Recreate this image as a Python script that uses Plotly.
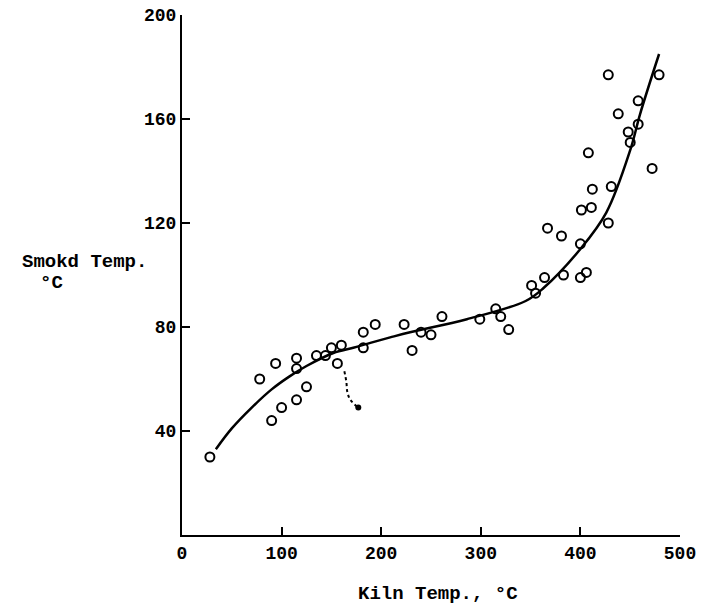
import plotly.graph_objects as go

# Observed points (open circles)
kiln_temp = [28, 78, 94, 90, 100, 115, 115, 115, 125, 135, 144, 150, 160, 156,
             182, 182, 194, 223, 231, 240, 250, 261, 299, 315, 320, 328, 351,
             355, 364, 383, 400, 406, 400, 367, 381, 428, 401, 411, 412, 431,
             408, 472, 450, 448, 458, 438, 458, 428, 479]
smoke_temp = [30, 60, 66, 44, 49, 68, 64, 52, 57, 69, 69, 72, 73, 66,
              78, 72, 81, 81, 71, 78, 77, 84, 83, 87, 84, 79, 96,
              93, 99, 100, 99, 101, 112, 118, 115, 120, 125, 126, 133, 134,
              147, 141, 151, 155, 158, 162, 167, 177, 177]

# Hand-drawn fitted curve
curve_x = [34, 50, 70, 90, 108, 125, 152, 172, 190, 209, 229, 286, 345, 363,
           400, 426, 450, 460, 479]
curve_y = [33, 41, 49, 56, 61, 65, 70, 72, 74, 76, 78, 83, 90, 95,
           110, 124, 148, 162, 185]

# Dotted branch ending in a filled point
branch_x = [163, 165, 166, 169, 177]
branch_y = [63, 59, 55, 52, 49]

x_ticks = [0, 100, 200, 300, 400, 500]
y_ticks = [40, 80, 120, 160, 200]

FONT = "Liberation Mono"

fig = go.Figure()
fig.add_trace(go.Scatter(x=curve_x, y=curve_y, mode="lines",
                         line=dict(color="black", width=2.5, shape="spline", smoothing=1.0),
                         hoverinfo="skip", showlegend=False))
fig.add_trace(go.Scatter(x=branch_x, y=branch_y, mode="lines",
                         line=dict(color="black", width=2, dash="dot", shape="spline"),
                         showlegend=False))
fig.add_trace(go.Scatter(x=branch_x[-1:], y=branch_y[-1:], mode="markers",
                         marker=dict(symbol="circle", size=6, color="black"),
                         showlegend=False))
fig.add_trace(go.Scatter(x=kiln_temp, y=smoke_temp, mode="markers",
                         marker=dict(symbol="circle-open", size=9, color="black",
                                     line=dict(width=2, color="black")),
                         showlegend=False))

fig.update_layout(
    width=703, height=611,
    margin=dict(l=182, r=23, t=15, b=76, autoexpand=False),
    paper_bgcolor="white", plot_bgcolor="white",
    font=dict(family=FONT, size=18, color="black", weight="bold"),
    xaxis=dict(range=[0, 500], tickvals=x_ticks, showline=True, linecolor="black",
               linewidth=2, ticks="inside", ticklen=8, tickwidth=2, tickcolor="black",
               showgrid=False, zeroline=False, automargin=False,
               tickfont=dict(family=FONT, size=18, weight="bold")),
    yaxis=dict(range=[0, 200], tickvals=y_ticks, showline=True, linecolor="black",
               linewidth=2, ticks="inside", ticklen=8, tickwidth=2, tickcolor="black",
               showgrid=False, zeroline=False, automargin=False,
               tickfont=dict(family=FONT, size=18, weight="bold")),
    annotations=[
        dict(text="Smokd Temp.", x=-0.3253, y=0.525, xref="paper", yref="paper",
             xanchor="left", yanchor="middle", showarrow=False,
             font=dict(family=FONT, size=19, weight="bold")),
        dict(text="°C", x=-0.263, y=0.4846, xref="paper", yref="paper",
             xanchor="center", yanchor="middle", showarrow=False,
             font=dict(family=FONT, size=19, weight="bold")),
        dict(text="Kiln Temp., °C", x=0.514, y=-0.1135, xref="paper", yref="paper",
             xanchor="center", yanchor="middle", showarrow=False,
             font=dict(family=FONT, size=19, weight="bold")),
    ],
)

fig.write_html("out.html", config={"displayModeBar": False},
               post_script="document.body.style.margin='0';")
